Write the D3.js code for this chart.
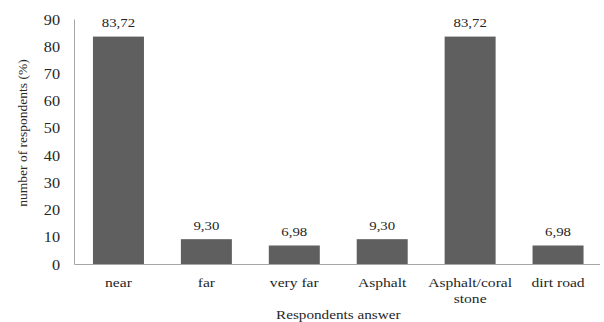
<!DOCTYPE html>
<html><head><meta charset="utf-8">
<script src="https://cdn.jsdelivr.net/npm/d3@7"></script>
<style>body{margin:0;background:#fff}svg{display:block}svg text{font-family:"Liberation Serif","Times New Roman",serif}</style>
</head><body>
<svg id="c" width="604" height="322"></svg>
<script>
const categories = ["near", "far", "very far", "Asphalt", "Asphalt/coral stone", "dirt road"];
const categoryLines = [["near"], ["far"], ["very far"], ["Asphalt"], ["Asphalt/coral", "stone"], ["dirt road"]];
const values = [83.72, 9.30, 6.98, 9.30, 83.72, 6.98];
const valueLabels = ["83,72", "9,30", "6,98", "9,30", "83,72", "6,98"];
const yTicks = [0, 10, 20, 30, 40, 50, 60, 70, 80, 90];
const yTitle = "number of respondents (%)";
const xTitle = "Respondents answer";

const svg = d3.select("#c");
const m = {left: 74.5, right: 602, top: 19.5, bottom: 264.5};

const x = d3.scaleBand().domain(categories).range([m.left, m.right]).paddingInner(0.42).paddingOuter(0.21);
const y = d3.scaleLinear().domain([0, 90]).range([m.bottom, m.top]);

svg.selectAll("rect.bar").data(values).enter().append("rect")
  .attr("x", (d, i) => x(categories[i]))
  .attr("y", d => y(d))
  .attr("width", x.bandwidth())
  .attr("height", d => y(0) - y(d))
  .attr("fill", "#5f5f5f");

svg.append("line").attr("x1", m.left).attr("x2", m.left).attr("y1", m.top).attr("y2", m.bottom)
  .attr("stroke", "#a6a6a6").attr("stroke-width", 1);
svg.append("line").attr("x1", m.left).attr("x2", 600).attr("y1", m.bottom).attr("y2", m.bottom)
  .attr("stroke", "#a6a6a6").attr("stroke-width", 1);

function stext(px, py, str, size, sx, anchor) {
  return svg.append("text")
    .attr("transform", `translate(${px},${py}) scale(${sx},1)`)
    .attr("text-anchor", anchor || "middle")
    .attr("font-size", size)
    .attr("fill", "#262626")
    .text(str);
}

yTicks.forEach(t => stext(60, y(t) + 5, t, 14.5, 1.12, "end"));

values.forEach((v, i) => stext(x(categories[i]) + x.bandwidth() / 2, y(v) - 9.5, valueLabels[i], 13, 1.14));

categoryLines.forEach((lines, i) => {
  lines.forEach((l, j) => stext(x(categories[i]) + x.bandwidth() / 2, 286.5 + j * 16.5, l, 13, 1.2));
});

stext((m.left + 600) / 2 + 1, 318.5, xTitle, 13, 1.17);

svg.append("text").attr("transform", "translate(27,133) rotate(-90)")
  .attr("text-anchor", "middle").attr("font-size", 13.5)
  .attr("fill", "#262626").text(yTitle);
</script>
</body></html>
